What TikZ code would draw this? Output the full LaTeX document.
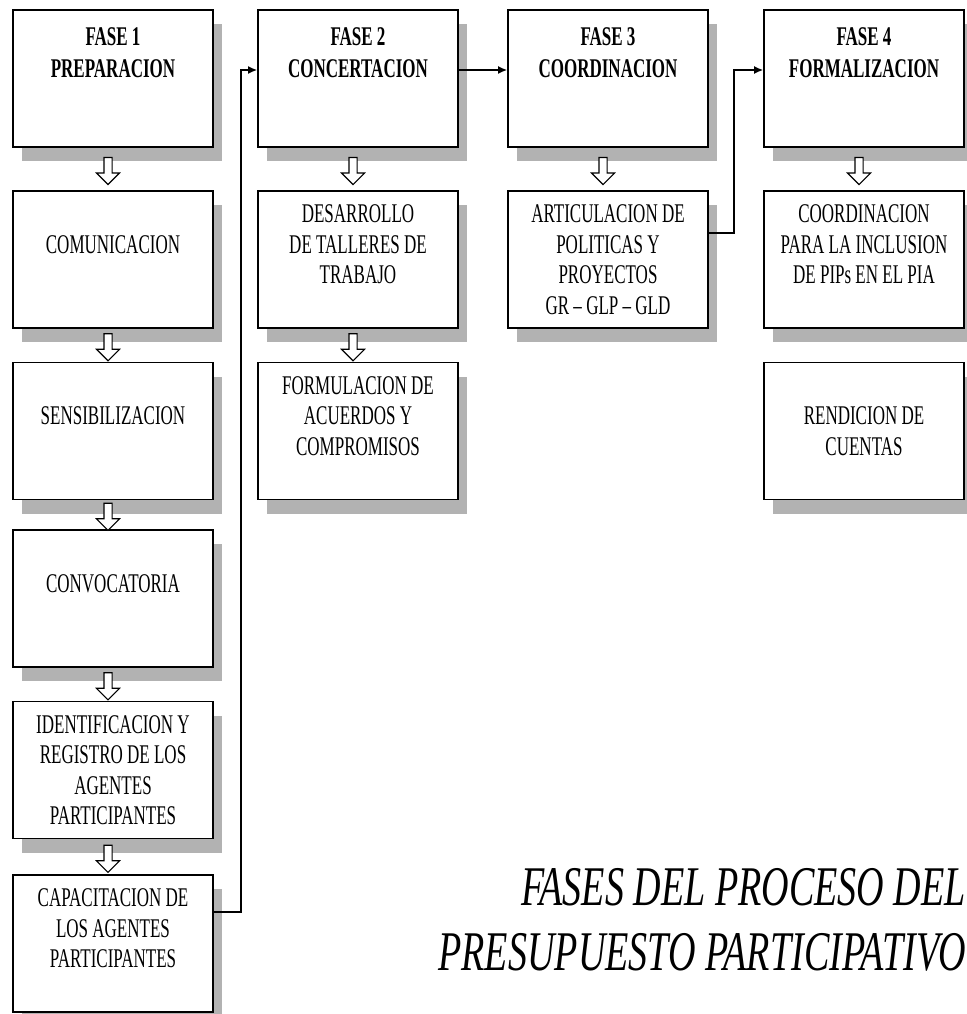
\documentclass[tikz,border=0pt]{standalone}
\usepackage{fontspec}
\setmainfont{Liberation Serif}
\newfontfamily\cajafont[FakeStretch=0.63]{Liberation Serif}
\newfontfamily\titulofont[FakeStretch=0.68]{Liberation Serif}
\usetikzlibrary{shapes,arrows.meta,positioning,calc,shadows}

\begin{document}
\begin{tikzpicture}[
    x=1pt, y=-1pt,
    etapa/.style={
        rectangle,
        draw=black,
        fill=white,
        line width=1.7pt,
        minimum width=200pt,
        minimum height=137pt,
        inner sep=0pt,
        align=center,
        font=\cajafont\fontsize{27}{30.5}\selectfont,
        drop shadow={shadow xshift=9pt, shadow yshift=-14pt, fill=black!30, opacity=1}
    },
    fase/.style={
        etapa,
        font=\cajafont\bfseries\fontsize{27}{32}\selectfont
    },
    bajada/.style={
        single arrow,
        draw=black,
        fill=white,
        line width=1.1pt,
        shape border rotate=270,
        minimum height=27pt,
        inner sep=3.5pt,
        single arrow head extend=7.5pt
    },
    flujo/.style={
        -{Latex[length=9pt,width=8pt]},
        line width=1.5pt,
        color=black
    },
    titulo/.style={
        font=\titulofont\itshape\fontsize{56}{65}\selectfont,
        align=right,
        inner sep=0pt
    }
]
\useasboundingbox (0,0) rectangle (966,1014);

% Fase 1
\node[fase] (fase1) at (113,78.5) {FASE 1\\PREPARACION\\[19pt]~};
\node[etapa] (comun) at (113,259.5) {COMUNICACION\\~};
\node[etapa] (sensib) at (113,431) {SENSIBILIZACION\\~};
\node[etapa] (convoc) at (113,598.5) {CONVOCATORIA\\~};
\node[etapa] (ident) at (113,770) {IDENTIFICACION Y\\REGISTRO DE LOS\\AGENTES\\PARTICIPANTES};
\node[etapa] (capac) at (113,943.5) {CAPACITACION DE\\LOS AGENTES\\PARTICIPANTES\\~};

% Fase 2
\node[fase] (fase2) at (358,78.5) {FASE 2\\CONCERTACION\\[19pt]~};
\node[etapa] (desarr) at (358,259.5) {DESARROLLO\\DE TALLERES DE\\TRABAJO\\~};
\node[etapa] (formul) at (358,431) {FORMULACION DE\\ACUERDOS Y\\COMPROMISOS\\~};

% Fase 3
\node[fase] (fase3) at (608,78.5) {FASE 3\\COORDINACION\\[19pt]~};
\node[etapa] (artic) at (608,259.5) {ARTICULACION DE\\POLITICAS Y\\PROYECTOS\\GR – GLP – GLD};

% Fase 4
\node[fase] (fase4) at (864,78.5) {FASE 4\\FORMALIZACION\\[19pt]~};
\node[etapa] (coord) at (864,259.5) {COORDINACION\\PARA LA INCLUSION\\DE PIPs EN EL PIA\\~};
\node[etapa] (rendic) at (864,431) {RENDICION DE\\CUENTAS};

% Flechas huecas dentro de cada fase
\foreach \a/\b in {fase1/comun, comun/sensib, sensib/convoc, convoc/ident, ident/capac,
                   fase2/desarr, desarr/formul, fase3/artic, fase4/coord}
    \node[bajada] (b-\a) at ($(\a.south)!0.5!(\b.north)+(-5,0)$) {};

% Paso de una fase a la siguiente
\draw[flujo] ([yshift=31.5pt]capac.east) -- ++(27,0) |- ([yshift=8.5pt]fase2.west);
\draw[flujo] ([yshift=8.5pt]fase2.east) -- ([yshift=8.5pt]fase3.west);
\draw[flujo] ([yshift=26.5pt]artic.east) -- ++(25,0) |- ([yshift=8.5pt]fase4.west);

% Titulo
\node[titulo, anchor=north east] (titulo) at (966,868) {FASES DEL PROCESO DEL\\PRESUPUESTO PARTICIPATIVO};

\end{tikzpicture}
\end{document}
